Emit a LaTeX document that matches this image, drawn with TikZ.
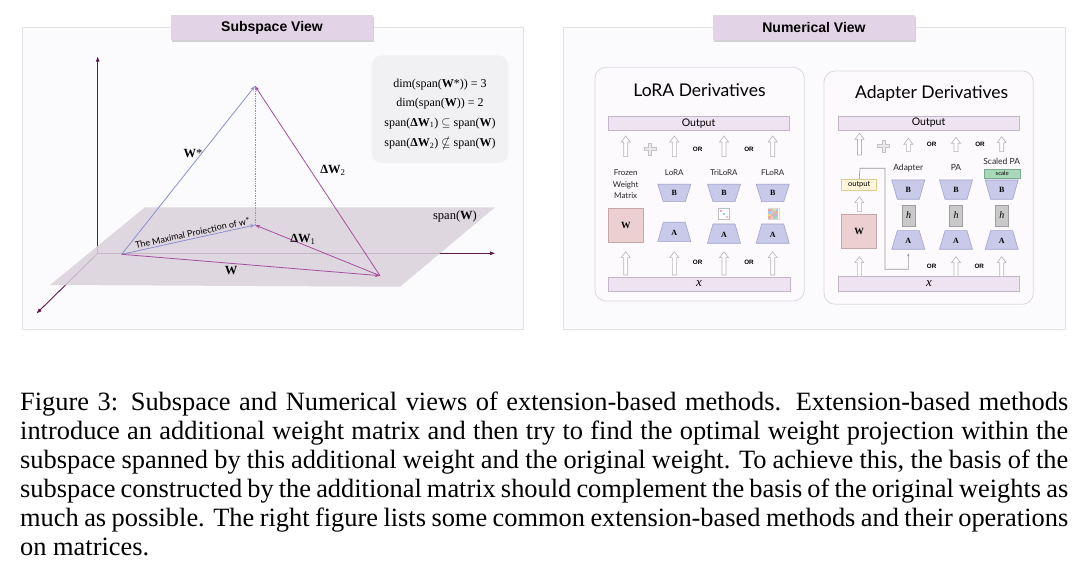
\documentclass[tikz,border=0pt]{standalone}
\usepackage{fontspec}
\usepackage{amssymb}
\setmainfont{Liberation Serif}
\newfontfamily\avfont{Lato}
\newfontfamily\hvfont{Liberation Sans}
\usetikzlibrary{arrows.meta}
\definecolor{panelfill}{HTML}{FBFAFD}
\definecolor{panelline}{HTML}{E4E2E8}
\definecolor{titlefill}{HTML}{E3D3E7}
\definecolor{shadowc}{HTML}{D2D0D4}
\definecolor{planec}{HTML}{D9D1DB}
\definecolor{axisc}{HTML}{5C1B4B}
\definecolor{bluev}{HTML}{8A91CC}
\definecolor{magv}{HTML}{A64F9C}
\definecolor{infofill}{HTML}{F1F0F3}
\definecolor{subfill}{HTML}{FCFAFD}
\definecolor{subline}{HTML}{DDD7E1}
\definecolor{barfill}{HTML}{EEE3F0}
\definecolor{barline}{HTML}{C6B4CB}
\definecolor{trapfill}{HTML}{C9C9E9}
\definecolor{trapline}{HTML}{A2A4D0}
\definecolor{wfill}{HTML}{EBCFD1}
\definecolor{wline}{HTML}{C7A5A9}
\definecolor{hfill}{HTML}{C9C9C9}
\definecolor{hline}{HTML}{9E9E9E}
\definecolor{scfill}{HTML}{A9D7BA}
\definecolor{scline}{HTML}{78AD8C}
\definecolor{outfill}{HTML}{FDF4DA}
\definecolor{outline}{HTML}{E2C98E}
\definecolor{harrline}{HTML}{B5B5BA}
\definecolor{connc}{HTML}{9A9A9A}
\definecolor{plusc}{HTML}{C4C4C8}
\definecolor{trpink}{HTML}{F2A6B5}
\definecolor{trblue}{HTML}{A9BFE8}
\definecolor{trpink2}{HTML}{F5BDC8}
\newcommand\myfs[1]{\fontsize{#1}{#1}\selectfont}
\newcommand\harr[3]{\draw[harrowst] (#1-2,#2) -- (#1-2,#3+6) -- (#1-4.5,#3+6) -- (#1,#3) -- (#1+4.5,#3+6) -- (#1+2,#3+6) -- (#1+2,#2) -- cycle;}
\newcommand\trapB[4]{\draw[trap] (#2-16.5,#3) -- (#2+16.5,#3) -- (#2+11,#4) -- (#2-11,#4) -- cycle;
  \node[trlabel] (#1) at (#2,{(#3+#4)/2}) {B};}
\newcommand\trapA[4]{\draw[trap] (#2-11,#3) -- (#2+11,#3) -- (#2+16.5,#4) -- (#2-16.5,#4) -- cycle;
  \node[trlabel] (#1) at (#2,{(#3+#4)/2+1}) {A};}
\newcommand\plussign[2]{\draw[plusc,fill=plusc!35,line width=0.5pt] (#1-1.5,#2-6) -- (#1+1.5,#2-6) -- (#1+1.5,#2-1.5) -- (#1+6,#2-1.5) -- (#1+6,#2+1.5) -- (#1+1.5,#2+1.5) -- (#1+1.5,#2+6) -- (#1-1.5,#2+6) -- (#1-1.5,#2+1.5) -- (#1-6,#2+1.5) -- (#1-6,#2-1.5) -- (#1-1.5,#2-1.5) -- cycle;}
\begin{document}
\begin{tikzpicture}[x=1pt,y=-1pt,
  panel/.style={draw=panelline,fill=panelfill,line width=0.8pt},
  titlebox/.style={fill=titlefill,inner sep=0pt,font=\hvfont\bfseries\myfs{14}},
  bluevec/.style={draw=bluev,line width=0.8pt,-{Stealth[length=5pt,width=3.5pt]}},
  magvec/.style={draw=magv,line width=0.8pt,-{Stealth[length=5pt,width=3.5pt]}},
  axis/.style={draw=axisc,line width=0.9pt,-{Triangle[length=5pt,width=3.5pt]}},
  serlab/.style={font=\myfs{12.5},inner sep=0pt},
  subbox/.style={draw=subline,fill=subfill,line width=0.8pt,rounded corners=11pt},
  bar/.style={draw=barline,fill=barfill,line width=0.7pt},
  trap/.style={draw=trapline,fill=trapfill,line width=0.6pt},
  trlabel/.style={font=\bfseries\myfs{8},inner sep=0pt},
  harrowst/.style={draw=harrline,fill=white,line width=0.6pt},
  orlab/.style={font=\hvfont\bfseries\myfs{6.3},inner sep=0pt},
  smlab/.style={font=\avfont\myfs{8.5},inner sep=0pt,text=black!85},
  capline/.style={anchor=base west,inner sep=0pt,font=\myfs{26.4}}]
\useasboundingbox (0,0) rectangle (1080,564);
\fill[white] (0,0) rectangle (1080,564);

% ---------------- left panel ----------------
\draw[panel] (22,27) rectangle (523,329);
\fill[shadowc] (172,17) rectangle (374,42);
\node[titlebox,minimum width=202pt,minimum height=25pt] (t1) at (272,27.5) {Subspace View};

\coordinate (AO) at (97.7,253.3);
\coordinate (AZ) at (97.7,56.7);
\coordinate (AX) at (495,253.3);
\coordinate (AY) at (36.7,313.3);
\draw[axis] (AO) -- (AZ);
\draw[axis] (AO) -- (AX);
\draw[axis] (AO) -- (AY);
\fill[planec,opacity=0.85] (145,207.3) -- (495,207.3) -- (400,286.7) -- (50,285) -- cycle;

\coordinate (O) at (121.7,254.3);
\coordinate (T) at (255,86);
\coordinate (P) at (255,225);
\coordinate (R) at (380,275.7);
\draw[bluev,line width=0.7pt,densely dotted] (T) -- (P);
\draw[bluevec] (O) -- (T);
\draw[bluevec] (O) -- (P);
\draw[magvec] (O) -- (R);
\draw[magvec] (R) -- (P);
\draw[magvec] (R) -- (T);

\node[serlab] (lWs) at (193,154) {\textbf{W}*};
\node[serlab] (lDW2) at (333,170) {\textbf{ΔW}\textsubscript{2}};
\node[serlab] (lDW1) at (303,239) {\textbf{ΔW}\textsubscript{1}};
\node[serlab] (lW) at (231,271) {\textbf{W}};
\node[serlab] (lspan) at (455,216) {span(\textbf{W})};
\node[font=\avfont\myfs{9},inner sep=0pt,rotate=12.4] (lproj) at (192.5,233) {The Maximal Proiection of w*};

\node[fill=infofill,rounded corners=10pt,minimum width=136.6pt,minimum height=107.6pt,inner sep=0pt] (info) at (440,109.3) {};
\node[serlab,font=\myfs{12}] (i1) at (440,84.3) {dim(span(\textbf{W}*)) = 3};
\node[serlab,font=\myfs{12}] (i2) at (440,103.3) {dim(span(\textbf{W})) = 2};
\node[serlab,font=\myfs{12}] (i3) at (440,123.3) {span(\textbf{ΔW}\textsubscript{1}) $\subseteq$ span(\textbf{W})};
\node[serlab,font=\myfs{12}] (i4) at (440,143.3) {span(\textbf{ΔW}\textsubscript{2}) $\nsubseteq$ span(\textbf{W})};

% ---------------- right panel ----------------
\draw[panel] (563,27) rectangle (1065,329);
\fill[shadowc] (714,17) rectangle (916,42);
\node[titlebox,minimum width=202pt,minimum height=25pt] (t2) at (814,27.5) {Numerical View};

% LoRA derivatives
\draw[subbox] (595,67.3) rectangle (804.3,301);
\node[font=\avfont\myfs{17.5},inner sep=0pt] (loratitle) at (699.5,90) {LoRA Derivatives};
\draw[bar] (608.3,116.7) rectangle (789,130);
\node[font=\avfont\myfs{10.5},inner sep=0pt] (lout) at (698.6,123.3) {Output};
\draw[bar] (608.3,277.7) rectangle (790,291);
\node[font=\itshape\myfs{13},inner sep=0pt] (lx) at (699,284) {x};

\harr{625.7}{156.7}{136}
\harr{674.3}{156.7}{136}
\harr{724}{156.7}{136}
\harr{772.7}{156.7}{136}
\plussign{650}{149}
\node[orlab] (or1) at (697.7,149) {OR};
\node[orlab] (or2) at (749,149) {OR};

\node[smlab,align=center,font=\avfont\fontsize{8}{11.5}\selectfont] (frozen) at (625.7,184.2) {Frozen\\Weight\\Matrix};
\node[smlab,font=\avfont\myfs{8}] (llora) at (674.3,172.7) {LoRA};
\node[smlab,font=\avfont\myfs{8}] (ltri) at (724,172.7) {TriLoRA};
\node[smlab,font=\avfont\myfs{8}] (lflo) at (772.7,172.7) {FLoRA};

\node[draw=wline,fill=wfill,line width=0.7pt,minimum width=35pt,minimum height=34.4pt,inner sep=0pt,font=\bfseries\myfs{9.5}] (lWbox) at (625.8,225.5) {W};
\trapB{lB1}{674.3}{184.3}{201.7}
\trapB{lB2}{724}{184.3}{201.7}
\trapB{lB3}{772.7}{184.3}{201.7}
\trapA{lA1}{674.3}{222.3}{241.7}
\trapA{lA2}{724}{224}{243.3}
\trapA{lA3}{772.7}{224}{243.3}

% TriLoRA core
\node[draw=black!25,fill=white,line width=0.4pt,minimum size=11pt,inner sep=0pt] (tricore) at (723.5,214) {};
\fill[trpink] (719.5,210) rectangle (721.5,212);
\fill[trblue] (722.5,213) rectangle (724.5,215);
\fill[trpink2] (725.5,216) rectangle (727.5,218);
% FLoRA core
\node[draw=black!15,fill=white,line width=0.3pt,minimum size=11pt,inner sep=0pt] (flocore) at (773.3,214) {};
\foreach \i/\j/\c in {0/0/F4A6A0,1/0/A6D8A8,2/0/F7D58A,3/0/A8C4EE,
                      0/1/A8C4EE,1/1/F2B8D8,2/1/A6D8A8,3/1/F4A6A0,
                      0/2/F7D58A,1/2/A8C4EE,2/2/F4A6A0,3/2/C8B4E8,
                      0/3/F4A6A0,1/3/F7D58A,2/3/A8C4EE,3/3/A6D8A8}
  {\definecolor{cellc}{HTML}{\c}\fill[cellc] (768.3+2.5*\i,209+2.5*\j) rectangle (770.8+2.5*\i,211.5+2.5*\j);}

\harr{625.7}{275}{251.7}
\harr{674.3}{275}{251.7}
\harr{724}{275}{251.7}
\harr{772.7}{275}{251.7}
\node[orlab] (or3) at (697.7,262.7) {OR};
\node[orlab] (or4) at (749,262.7) {OR};

% Adapter derivatives
\draw[subbox] (824,71) rectangle (1033.3,304.3);
\node[font=\avfont\myfs{17.5},inner sep=0pt] (adtitle) at (931.7,94) {Adapter Derivatives};
\draw[bar] (838.3,116) rectangle (1019,130);
\node[font=\avfont\myfs{10.5},inner sep=0pt] (aout) at (928.6,123) {Output};
\draw[bar] (838.3,276.7) rectangle (1019,291);
\node[font=\itshape\myfs{13},inner sep=0pt] (ax) at (929,283.5) {x};

\harr{859.5}{155}{133.3}
\harr{908.3}{151.7}{138.3}
\harr{956}{151.7}{137.3}
\harr{1001.7}{151.7}{136.7}
\plussign{883.3}{146}
\node[orlab] (or5) at (931.7,144) {OR};
\node[orlab] (or6) at (980,144) {OR};

\node[smlab] (ladap) at (908.3,167.7) {Adapter};
\node[smlab] (lpa) at (956,167.7) {PA};
\node[smlab] (lspa) at (1001.7,161.7) {Scaled PA};
\node[draw=scline,fill=scfill,line width=0.6pt,minimum width=35.7pt,minimum height=9.3pt,inner sep=0pt,font=\avfont\myfs{6}] (scale) at (1002.2,173.7) {scale};

\node[draw=outline,fill=outfill,line width=0.6pt,minimum width=35pt,minimum height=10.7pt,inner sep=0pt,font=\avfont\myfs{7.5}] (aoutbox) at (859.2,184.7) {output};
\node[draw=wline,fill=wfill,line width=0.7pt,minimum width=35pt,minimum height=34.3pt,inner sep=0pt,font=\bfseries\myfs{9.5}] (aWbox) at (859.2,231.2) {W};
\harr{859.3}{211.7}{196.7}
\harr{859.3}{276.7}{256.7}

\trapB{aB1}{908.3}{180}{199.3}
\trapB{aB2}{956}{180}{199.3}
\trapB{aB3}{1001.7}{180}{199.3}
\foreach \xx/\nm in {908.7/ah1,956/ah2,1001.9/ah3}
  \node[draw=hline,fill=hfill,line width=0.6pt,minimum width=12.7pt,minimum height=21pt,inner sep=0pt,font=\itshape\myfs{10}] (\nm) at (\xx,215.5) {h};
\trapA{aA1}{908.3}{230.7}{249.3}
\trapA{aA2}{956}{230.7}{249.3}
\trapA{aA3}{1001.7}{230.7}{249.3}

\coordinate (c1) at (860,168.3);
\coordinate (c2) at (885,168.3);
\coordinate (c3) at (885,269.3);
\coordinate (c4) at (908.3,269.3);
\coordinate (c5) at (908.3,253.3);
\draw[connc,line width=0.6pt,-{Stealth[length=3pt,width=2.5pt]}] (aoutbox.north) -- (c1) -- (c2) -- (c3) -- (c4) -- (c5);

\harr{956}{276.7}{256.7}
\harr{1001.7}{276.7}{256.7}
\node[orlab] (or7) at (931.7,266.7) {OR};
\node[orlab] (or8) at (979.3,266.7) {OR};

% ---------------- caption ----------------
\node[capline] (cap1) at (20,410) {\makebox[1048pt][s]{Figure 3: Subspace and Numerical views of extension-based methods. Extension-based methods}};
\node[capline] (cap2) at (20,439) {\makebox[1048pt][s]{introduce an additional weight matrix and then try to find the optimal weight projection within the}};
\node[capline] (cap3) at (20,468) {\makebox[1048pt][s]{subspace spanned by this additional weight and the original weight. To achieve this, the basis of the}};
\node[capline] (cap4) at (20,497) {\makebox[1048pt][s]{subspace constructed by the additional matrix should complement the basis of the original weights as}};
\node[capline] (cap5) at (20,526) {\makebox[1048pt][s]{much as possible. The right figure lists some common extension-based methods and their operations}};
\node[capline] (cap6) at (20,555) {on matrices.};
\end{tikzpicture}
\end{document}
